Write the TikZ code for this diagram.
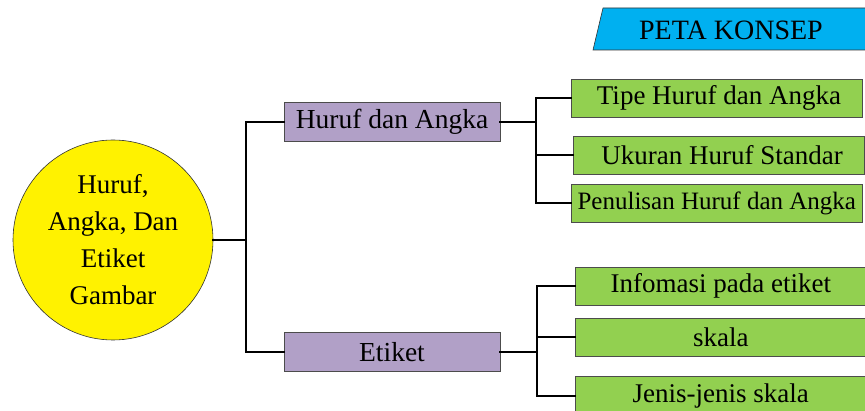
\documentclass[tikz,border=0pt]{standalone}
\usepackage{fontspec}
\setmainfont{Liberation Serif}
\begin{document}
\begin{tikzpicture}[x=1pt,y=-1pt,
  line width=0.6pt,
  conn/.style={line width=2.4pt,line cap=rect},
  purp/.style={draw=black!70,fill={rgb,255:red,177;green,160;blue,199},minimum width=216pt,minimum height=39pt,font=\fontsize{27.5}{30}\selectfont,inner sep=0pt},
  grn/.style={draw=black!70,fill={rgb,255:red,146;green,208;blue,80},minimum width=291pt,minimum height=38pt,font=\fontsize{27}{30}\selectfont,inner sep=0pt,anchor=west}]
\useasboundingbox (0,0) rectangle (865,411);
\clip (0,0) rectangle (865,411);
% title
\draw[black!80,fill={rgb,255:red,0;green,176;blue,240}] (593,50) -- (603,8) -- (870,8) -- (870,50) -- cycle;
\node[font=\fontsize{28}{30}\selectfont] (title) at (731,30) {PETA KONSEP};
% circle
\node[circle,draw=black!80,fill=yellow,minimum size=200pt,inner sep=0pt,align=center,font=\fontsize{27}{37}\selectfont] (main) at (113,240) {Huruf,\\Angka, Dan\\Etiket\\Gambar};
% purple
\node[purp] (ha) at (392,122) {Huruf dan Angka};
\node[purp] (et) at (392,352) {Etiket};
% green
\node[grn] (g1) at (571,98) {\,Tipe Huruf dan Angka};
\node[grn] (g2) at (573,155) {\ Ukuran Huruf Standar};
\node[grn,font=\fontsize{25}{30}\selectfont] (g3) at (571,203) {Penulisan Huruf dan Angka};
\node[grn] (g4) at (575,286) {Infomasi pada etiket};
\node[grn] (g5) at (575,337) {skala};
\node[grn,minimum height=40pt] (g6) at (575,396) {Jenis-jenis skala};
% connectors
\coordinate (j0) at (246,240);
\draw[conn] (main.east) -- (j0);
\draw[conn] (ha.west) -| (j0) |- (et.west);
\coordinate (j1) at (536,122);
\draw[conn] (ha.east) -- (j1);
\draw[conn] (g1.west) -| (j1) |- (g3.west);
\draw[conn] (j1 |- g2.west) -- (g2.west);
\coordinate (j2) at (537,352);
\draw[conn] (et.east) -- (j2);
\draw[conn] (g4.west) -| (j2) |- (g6.west);
\draw[conn] (j2 |- g5.west) -- (g5.west);
\end{tikzpicture}
\end{document}
